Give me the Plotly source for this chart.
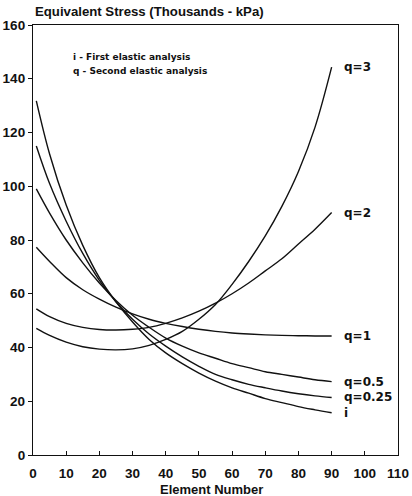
import plotly.graph_objects as go

# Element positions along the section
element = [1, 5, 10, 15, 20, 25, 30, 35, 40, 45, 50, 55, 60, 65, 70, 75, 80, 85, 90]

# Equivalent stress (thousands of kPa) for each analysis
stress_i = [131.8, 112, 93, 78, 66, 57, 49.5, 43, 38, 34, 30.5, 27.5, 25, 23, 21, 19.5, 18, 16.8, 15.7]
stress_q025 = [115, 101, 87, 75, 65, 57, 50.5, 45, 40.5, 36.5, 33, 30, 28, 26.3, 25, 23.8, 22.8, 22, 21.4]
stress_q05 = [99, 90, 80, 71.5, 64, 57.5, 52, 47.5, 43.5, 40.5, 38, 36, 34, 32.5, 31, 30, 29, 28, 27.3]
stress_q1 = [77.3, 72, 66, 61.5, 58, 55, 52.5, 50.5, 49, 47.8, 46.8, 46, 45.4, 45, 44.7, 44.5, 44.4, 44.3, 44.3]
stress_q2 = [54.4, 51.5, 49, 47.5, 46.7, 46.5, 46.8, 47.5, 49, 51, 53.5, 56.5, 60, 64, 68.5, 73, 78.5, 84, 90.2]
stress_q3 = [47.1, 44.5, 42, 40.3, 39.4, 39.1, 39.5, 40.8, 43, 46, 50.5, 56, 63.5, 72, 81.5, 92.5, 105.5, 122, 144.3]

series = [
    ("i", stress_i),
    ("q=0.25", stress_q025),
    ("q=0.5", stress_q05),
    ("q=1", stress_q1),
    ("q=2", stress_q2),
    ("q=3", stress_q3),
]

x_ticks = [0, 10, 20, 30, 40, 50, 60, 70, 80, 90, 100, 110]
y_ticks = [0, 20, 40, 60, 80, 100, 120, 140, 160]

SANS = "Liberation Sans"
WIDE = "DejaVu Sans"
INK = "#111111"

fig = go.Figure()
for name, values in series:
    fig.add_trace(go.Scatter(
        x=element, y=values, mode="lines", name=name,
        line=dict(color=INK, width=1.4, shape="spline", smoothing=1.0),
        showlegend=False,
    ))
    # curve label just right of the last point
    fig.add_annotation(
        x=element[-1] + 3.0, y=values[-1], text=name,
        xanchor="left", yanchor="middle", showarrow=False,
        font=dict(family=WIDE, size=12, color=INK, weight="bold"),
    )

# key for the symbols used in the labels
fig.add_annotation(x=11.4, y=148, text="i - First elastic analysis",
                   xanchor="left", yanchor="middle", showarrow=False,
                   font=dict(family=WIDE, size=9, color=INK, weight="bold"))
fig.add_annotation(x=11.4, y=142.8, text="q - Second elastic analysis",
                   xanchor="left", yanchor="middle", showarrow=False,
                   font=dict(family=WIDE, size=9, color=INK, weight="bold"))

# y-axis caption sits above the plot area
fig.add_annotation(xref="paper", yref="paper", x=0, y=1.0, yshift=4,
                   text="Equivalent Stress (Thousands - kPa)",
                   xanchor="left", yanchor="bottom", showarrow=False,
                   font=dict(family=SANS, size=13.2, color=INK, weight="bold"))

# x-axis caption below the tick labels
fig.add_annotation(xref="paper", yref="paper", x=0.49, y=0, yshift=-34,
                   text="Element Number",
                   xanchor="center", yanchor="middle", showarrow=False,
                   font=dict(family=SANS, size=13, color=INK, weight="bold"))

fig.update_xaxes(
    range=[0, 110], tickvals=x_ticks, ticks="inside", ticklen=4, tickcolor=INK,
    showline=True, linecolor=INK, linewidth=1.3, mirror=True,
    showgrid=False, zeroline=False, automargin=False, ticklabelstandoff=6,
    tickfont=dict(family=SANS, size=13.5, color=INK, weight="bold"),
)
fig.update_yaxes(
    range=[0, 160], tickvals=y_ticks, ticks="outside", ticklen=4, tickcolor=INK,
    showline=True, linecolor=INK, linewidth=1.3, mirror=True,
    showgrid=False, zeroline=False, automargin=False, ticklabelstandoff=0,
    tickfont=dict(family=SANS, size=13.5, color=INK, weight="bold"),
)

fig.update_layout(
    width=412, height=496,
    margin=dict(l=33, r=14, t=25, b=41),
    paper_bgcolor="white", plot_bgcolor="white",
)

fig.write_html("out.html")
